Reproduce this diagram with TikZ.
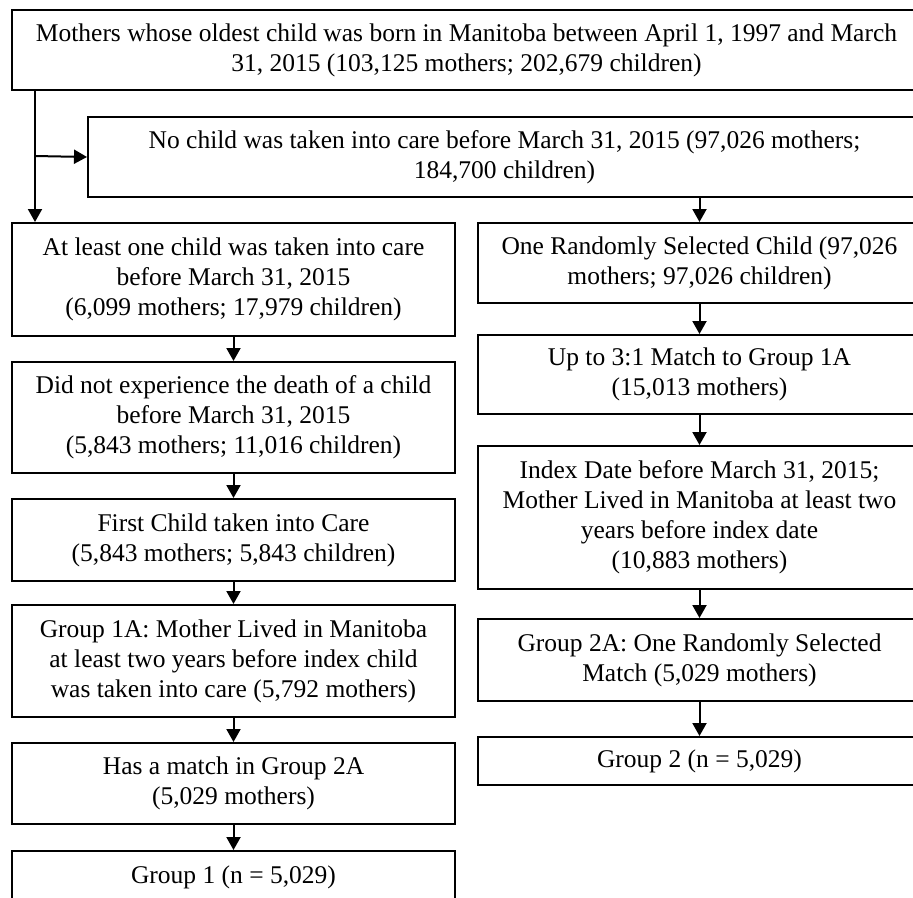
\documentclass[tikz,border=0pt]{standalone}
\usepackage{fontspec}
\setmainfont{Liberation Serif}
\usetikzlibrary{arrows.meta}

\begin{document}
\begin{tikzpicture}[x=1pt, y=-1pt, >={Triangle[length=13pt,width=14pt]},
  box/.style={draw, line width=2pt, rectangle, align=center, inner sep=0pt,
    font=\fontsize{25.5}{30}\selectfont},
  flow/.style={->, line width=2pt}]

\useasboundingbox (0,0) rectangle (913,897);
\clip (0,0) rectangle (913,897);
\fill[white] (0,0) rectangle (913,897);

% top and exclusion
\node[box, minimum width=909pt, minimum height=80pt] (all) at (466.5,50)
  {Mothers whose oldest child was born in Manitoba between April 1, 1997 and March\\
   31, 2015 (103,125 mothers; 202,679 children)};
\node[box, minimum width=833pt, minimum height=80pt] (nocare) at (504.5,157)
  {No child was taken into care before March 31, 2015 (97,026 mothers;\\
   184,700 children)};

% left column
\node[box, minimum width=443pt, minimum height=113pt] (care) at (233.5,279.5)
  {At least one child was taken into care\\ before March 31, 2015\\
   (6,099 mothers; 17,979 children)};
\node[box, minimum width=443pt, minimum height=111pt] (nodeath) at (233.5,417.5)
  {Did not experience the death of a child\\ before March 31, 2015\\
   (5,843 mothers; 11,016 children)};
\node[box, minimum width=443pt, minimum height=82pt] (first) at (233.5,540)
  {First Child taken into Care\\ (5,843 mothers; 5,843 children)};
\node[box, minimum width=443pt, minimum height=112pt] (grpA) at (233.5,661)
  {Group 1A: Mother Lived in Manitoba\\ at least two years before index child\\
   was taken into care (5,792 mothers)};
\node[box, minimum width=443pt, minimum height=81pt] (hasmatch) at (233.5,783.5)
  {Has a match in Group 2A\\ (5,029 mothers)};
\node[box, minimum width=443pt, minimum height=52pt] (grpone) at (233.5,877)
  {Group 1 (n = 5,029)};

% right column
\node[box, minimum width=443pt, minimum height=80pt] (random) at (699.5,263)
  {One Randomly Selected Child (97,026\\ mothers; 97,026 children)};
\node[box, minimum width=443pt, minimum height=79pt] (match) at (699.5,374.5)
  {Up to 3:1 Match to Group 1A\\ (15,013 mothers)};
\node[box, minimum width=443pt, minimum height=143pt] (index) at (699.5,517.5)
  {Index Date before March 31, 2015;\\ Mother Lived in Manitoba at least two\\
   years before index date\\ (10,883 mothers)};
\node[box, minimum width=443pt, minimum height=82pt] (grpB) at (699.5,660)
  {Group 2A: One Randomly Selected\\ Match (5,029 mothers)};
\node[box, minimum width=443pt, minimum height=48pt] (grptwo) at (699.5,761)
  {Group 2 (n = 5,029)};

\coordinate (split) at (35,156);

\draw[line width=2pt] (all.south -| split) -- (split);
\draw[flow] (split) -- (care.north -| split);
\draw[flow] (split) -- (nocare.west);
\draw[flow] (nocare.south -| random.north) -- (random.north);

\draw[flow] (care) -- (nodeath);
\draw[flow] (nodeath) -- (first);
\draw[flow] (first) -- (grpA);
\draw[flow] (grpA) -- (hasmatch);
\draw[flow] (hasmatch) -- (grpone);

\draw[flow] (random) -- (match);
\draw[flow] (match) -- (index);
\draw[flow] (index) -- (grpB);
\draw[flow] (grpB) -- (grptwo);
\end{tikzpicture}
\end{document}
